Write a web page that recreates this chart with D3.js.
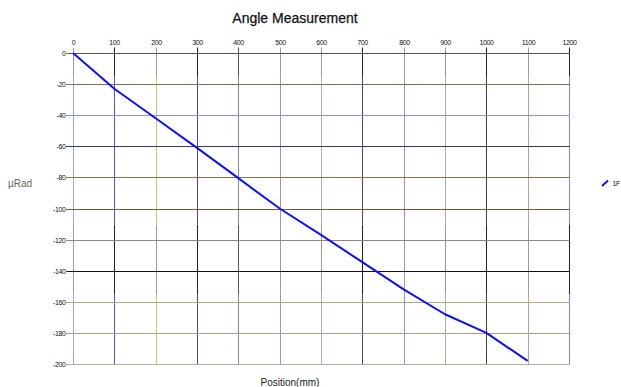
<!DOCTYPE html>
<html lang="en">
<head>
<meta charset="UTF-8">
<title>Angle Measurement</title>
<style>
  body { margin: 0; overflow: hidden; background: #fff; }
  svg  { display: block; }
  text { font-family: "Liberation Sans", Arial, sans-serif; }
  .tick-label { font-size: 7px; fill: #111; letter-spacing: -0.4px; }
</style>
</head>
<body>
<svg id="chart" width="621" height="387"></svg>

<script src="https://cdn.jsdelivr.net/npm/d3@7/dist/d3.min.js"></script>
<script>
// ---- data ----
const positions = [0, 100, 200, 300, 400, 500, 600, 700, 800, 900, 1000, 1100];
const angles    = [0, -23, -42, -61, -80.5, -100, -117, -134.5, -152, -168, -180, -198];
const xTicks = d3.range(0, 1201, 100);
const yTicks = d3.range(0, -201, -20);
const seriesName = '1F';

// grid colours: [solid, ditherA, ditherB] per vertical; [a, b] per horizontal
const vGridColors = [
  ['#9a9a9a', '#e080e0', '#60d0d0'],
  ['#222',    '#3c3cc0', '#6a6ae0'],
  ['#9a9a9a', '#d8d860', '#90d080'],
  ['#222',    '#7a40a0', '#404080'],
  ['#555',    '#8080c0', '#a080a0'],
  ['#9a9a9a', '#8080d0', '#c0a0d0'],
  ['#9a9a9a', '#a0a0e0', '#c0c0c0'],
  ['#222',    '#404040', '#6040a0'],
  ['#9a9a9a', '#8080e0', '#c0a0c0'],
  ['#9a9a9a', '#a0a0a0', '#c0c080'],
  ['#222',    '#303030', '#505050'],
  ['#9a9a9a', '#d0c060', '#c080a0'],
  ['#222',    '#6060e0', '#a0a0f0']
];
const hGridColors = [
  ['#555', '#555'],
  ['#b04848', '#48a048'],
  ['#8080d0', '#a0a0e0'],
  ['#303070', '#404090'],
  ['#c04848', '#48a048'],
  ['#a03838', '#388038'],
  ['#888', '#888'],
  ['#111', '#111'],
  ['#d09090', '#a0c070'],
  ['#a0c080', '#c08080'],
  ['#d0a0a0', '#a0c090']
];

// ---- layout ----
const svg = d3.select('#chart');
const x = d3.scaleLinear().domain([0, 1200]).range([73, 569]);
const y = d3.scaleLinear().domain([-200, 0]).range([364, 53]);
const px = v => Math.round(x(v)) + 0.5;
const py = v => Math.round(y(v)) + 0.5;

// title
svg.append('text')
  .attr('x', 295).attr('y', 23)
  .attr('text-anchor', 'middle')
  .style('font-size', '14px')
  .style('fill', '#111')
  .style('stroke', '#111')
  .style('stroke-width', 0.25)
  .text('Angle Measurement');

// ---- vertical grid (drawn in segments to mimic dithered look) ----
const vg = svg.append('g');
const solidBands  = [[0, -15], [-110, -155]];
const ditherBands = [[-15, -110], [-155, -200]];
xTicks.forEach((t, i) => {
  const [solid, a, b] = vGridColors[i];
  // tick above plot
  vg.append('line')
    .attr('x1', px(t)).attr('x2', px(t))
    .attr('y1', py(0) - 6).attr('y2', py(0))
    .attr('stroke', solid);
  solidBands.forEach(([v0, v1]) => {
    vg.append('line')
      .attr('x1', px(t)).attr('x2', px(t))
      .attr('y1', py(v0)).attr('y2', py(v1))
      .attr('stroke', solid);
  });
  ditherBands.forEach(([v0, v1]) => {
    vg.append('line')
      .attr('x1', px(t)).attr('x2', px(t))
      .attr('y1', py(v0)).attr('y2', py(v1))
      .attr('stroke', a);
    vg.append('line')
      .attr('x1', px(t)).attr('x2', px(t))
      .attr('y1', py(v0)).attr('y2', py(v1))
      .attr('stroke', b)
      .attr('stroke-dasharray', '1,1');
  });
});

// ---- horizontal grid ----
const hg = svg.append('g');
yTicks.forEach((t, i) => {
  const [a, b] = hGridColors[i];
  hg.append('line')
    .attr('x1', px(0) - 7).attr('x2', px(1200))
    .attr('y1', py(t)).attr('y2', py(t))
    .attr('stroke', a);
  if (a !== b) {
    hg.append('line')
      .attr('x1', px(0) - 7).attr('x2', px(1200))
      .attr('y1', py(t)).attr('y2', py(t))
      .attr('stroke', b)
      .attr('stroke-dasharray', '1,1');
  }
});

// ---- tick labels ----
svg.append('g').selectAll('text')
  .data(xTicks)
  .join('text')
    .attr('class', 'tick-label')
    .attr('x', d => px(d))
    .attr('y', 44.5)
    .attr('text-anchor', 'middle')
    .text(d => d);

svg.append('g').selectAll('text')
  .data(yTicks)
  .join('text')
    .attr('class', 'tick-label')
    .attr('x', 65.5)
    .attr('y', d => py(d) + 2.5)
    .attr('text-anchor', 'end')
    .text(d => d);

// ---- axis titles ----
svg.append('text')
  .attr('x', 8).attr('y', 187)
  .style('font-size', '10px')
  .style('fill', '#6a6a55')
  .text('µRad');

svg.append('text')
  .attr('x', 290).attr('y', 386)
  .attr('text-anchor', 'middle')
  .style('font-size', '10px')
  .style('fill', '#222')
  .text('Position(mm)');

// ---- series ----
const line = d3.line()
  .x((d, i) => x(positions[i]))
  .y(d => y(d));

svg.append('path')
  .datum(angles)
  .attr('fill', 'none')
  .attr('stroke', '#0a10ff')
  .attr('stroke-width', 2)
  .attr('stroke-linejoin', 'round')
  .attr('d', line);

// ---- legend ----
const lg = svg.append('g');
lg.append('line')
  .attr('x1', 602).attr('y1', 186)
  .attr('x2', 608).attr('y2', 180.5)
  .attr('stroke', '#0a10ff')
  .attr('stroke-width', 2);
lg.append('text')
  .attr('x', 612.5).attr('y', 185.5)
  .attr('class', 'tick-label')
  .text(seriesName);
</script>
</body>
</html>
